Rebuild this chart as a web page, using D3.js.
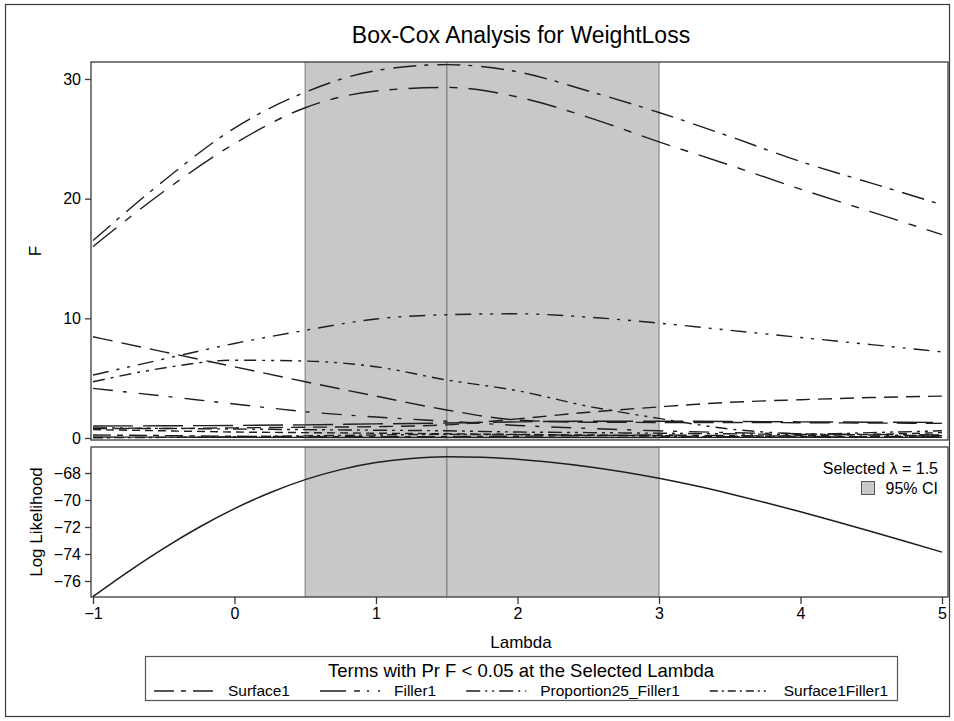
<!DOCTYPE html>
<html>
<head>
<meta charset="utf-8">
<script src="https://cdn.jsdelivr.net/npm/d3@7"></script>
<style>
  body { margin: 0; background: #fff; }
  svg { display: block; }
  text { font-family: "Liberation Sans", Arial, sans-serif; fill: #000; }
</style>
</head>
<body>
<svg id="chart" width="954" height="721"></svg>
<script>
// Box-Cox lambda grid and F statistics of each model term
const lambdaGrid = [-1, -0.5, 0, 0.5, 1, 1.5, 2, 2.5, 3, 3.5, 4, 4.5, 5];
const fSurface1 = [16.0, 20.6, 24.6, 27.6, 29.0, 29.3, 28.5, 26.8, 24.75, 22.8, 20.8, 18.9, 17.0];
const fFiller1 = [16.5, 21.5, 25.9, 28.9, 30.7, 31.2, 30.6, 29.0, 27.2, 25.2, 23.1, 21.3, 19.5];
const fProportion25Filler1 = [5.26, 6.6, 7.9, 9.0, 9.95, 10.3, 10.38, 10.1, 9.6, 9.0, 8.4, 7.8, 7.2];
const fSurface1Filler1 = [4.7, 5.85, 6.5, 6.43, 5.95, 4.85, 3.95, 2.65, 1.64, 0.75, 0.35, 0.25, 0.2];
// terms that are not significant at the selected lambda
const fProportion25 = [8.46, 7.2, 5.95, 4.7, 3.5, 2.34, 1.5, 1.32, 1.3, 1.3, 1.28, 1.25, 1.22];
const fProportion50 = [0.8, 0.8, 0.85, 0.9, 0.95, 1.1, 1.6, 2.15, 2.6, 2.98, 3.2, 3.38, 3.5];
const fSurface1Proportion25 = [4.15, 3.5, 2.84, 2.2, 1.75, 1.4, 1.05, 0.8, 0.6, 0.45, 0.35, 0.3, 0.25];
const fProportion50Filler1 = [1.0, 1.02, 1.05, 1.1, 1.18, 1.25, 1.35, 1.4, 1.4, 1.38, 1.35, 1.32, 1.3];
const fSurface1Proportion50 = [0.85, 0.8, 0.75, 0.7, 0.65, 0.6, 0.5, 0.45, 0.4, 0.35, 0.3, 0.45, 0.6];
const fSurface1Proportion25Filler1 = [0.7, 0.6, 0.5, 0.45, 0.4, 0.35, 0.3, 0.25, 0.2, 0.15, 0.2, 0.3, 0.45];
const fSurface1Proportion50Filler1 = [0.25, 0.2, 0.15, 0.12, 0.1, 0.12, 0.15, 0.2, 0.25, 0.2, 0.15, 0.1, 0.1];
const fProportion25Proportion50 = [0.08, 0.07, 0.06, 0.05, 0.05, 0.05, 0.05, 0.05, 0.05, 0.05, 0.05, 0.05, 0.05];
const fFiller1Squared = [0.02, 0.05, 0.1, 0.18, 0.25, 0.3, 0.28, 0.22, 0.15, 0.1, 0.08, 0.12, 0.2];

// Log likelihood profile
const llLambda = [-1, -0.75, -0.5, -0.25, 0, 0.25, 0.5, 0.75, 1, 1.25, 1.5, 1.75, 2, 2.25, 2.5, 2.75, 3, 3.25, 3.5, 3.75, 4, 4.25, 4.5, 4.75, 5];
const logLik = [-77.15, -75.3, -73.58, -72.02, -70.64, -69.46, -68.49, -67.75, -67.23, -66.92, -66.8, -66.83, -66.98, -67.22, -67.53, -67.92, -68.39, -68.93, -69.53, -70.18, -70.87, -71.59, -72.33, -73.09, -73.86];

const selectedLambda = 1.5;
const ciLambda = [0.5, 3];

const lambdaTicks = [-1, 0, 1, 2, 3, 4, 5];
const fTicks = [0, 10, 20, 30];
const llTicks = [-76, -74, -72, -70, -68];

const legendTerms = ["Surface1", "Filler1", "Proportion25_Filler1", "Surface1Filler1"];

// series, their curve patterns and the shorter patterns used in the legend swatches
const series = [
  { name: "Surface1", values: fSurface1, dash: "30,11,8,11", legendDash: "20,7,5,7" },
  { name: "Filler1", values: fFiller1, dash: "23,8,4,9", legendDash: "26,8,6,7,2,9" },
  { name: "Proportion25_Filler1", values: fProportion25Filler1, dash: "16,8,3,8,3,8", legendDash: "14,5,2,5,2,5" },
  { name: "Surface1Filler1", values: fSurface1Filler1, dash: "12,6,3,6,12,6,3,6,3,6", legendDash: "8,4,2,4,8,4,2,4,8,4,2,4,2,4" },
  { name: "Proportion25", values: fProportion25, dash: "20,9" },
  { name: "Proportion50", values: fProportion50, dash: "14,8" },
  { name: "Surface1Proportion25", values: fSurface1Proportion25, dash: "20,10,4,12" },
  { name: "Proportion50Filler1", values: fProportion50Filler1, dash: "40,10" },
  { name: "Surface1Proportion50", values: fSurface1Proportion50, dash: "14,5,3,5,3,5" },
  { name: "Surface1Proportion25Filler1", values: fSurface1Proportion25Filler1, dash: "8,5" },
  { name: "Surface1Proportion50Filler1", values: fSurface1Proportion50Filler1, dash: "18,6,6,6" },
  { name: "Proportion25Proportion50", values: fProportion25Proportion50, dash: null },
  { name: "Filler1Squared", values: fFiller1Squared, dash: "10,4,3,4" }
];

const svg = d3.select("#chart");
const ink = "#1e1e1e";
const frame = "#3a3a3a";
const bandFill = "#c8c8c8";
const bandEdge = "#9a9a9a";

// outer border
svg.append("rect").attr("x", 5.5).attr("y", 4.5).attr("width", 944).attr("height", 712)
  .attr("fill", "none").attr("stroke", frame).attr("stroke-width", 1.2);

// title
svg.append("text").attr("x", 521).attr("y", 43).attr("text-anchor", "middle")
  .style("font-size", "23px").text("Box-Cox Analysis for WeightLoss");

const plotLeft = 91, plotRight = 948;
const topPanel = { top: 62, bottom: 440 };
const botPanel = { top: 447, bottom: 597 };

const x = d3.scaleLinear().domain([-1, 5]).range([93, 942]);
const yF = d3.scaleLinear().domain([0, 30]).range([438, 79]);
const yLL = d3.scaleLinear().domain([-76, -68]).range([581, 473]);

function drawBand(panel) {
  const g = svg.append("g");
  g.append("rect").attr("x", x(ciLambda[0])).attr("y", panel.top)
    .attr("width", x(ciLambda[1]) - x(ciLambda[0])).attr("height", panel.bottom - panel.top)
    .attr("fill", bandFill);
  ciLambda.forEach(v => {
    g.append("line").attr("x1", x(v)).attr("x2", x(v)).attr("y1", panel.top).attr("y2", panel.bottom)
      .attr("stroke", bandEdge).attr("stroke-width", 1.5);
  });
  g.append("line").attr("x1", x(selectedLambda)).attr("x2", x(selectedLambda))
    .attr("y1", panel.top).attr("y2", panel.bottom)
    .attr("stroke", "#8a8a8a").attr("stroke-width", 1.5);
}

// ---- top panel: F statistics ----
drawBand(topPanel);

svg.append("clipPath").attr("id", "clipTop").append("rect")
  .attr("x", plotLeft).attr("y", topPanel.top)
  .attr("width", plotRight - plotLeft).attr("height", topPanel.bottom - topPanel.top);

const fLine = d3.line()
  .x((d, i) => x(lambdaGrid[i]))
  .y(d => yF(d))
  .curve(d3.curveMonotoneX);

svg.append("g").attr("clip-path", "url(#clipTop)")
  .selectAll("path").data(series).join("path")
  .attr("d", d => fLine(d.values))
  .attr("fill", "none").attr("stroke", ink).attr("stroke-width", 1.4)
  .attr("stroke-dasharray", d => d.dash);

svg.append("rect").attr("x", plotLeft).attr("y", topPanel.top)
  .attr("width", plotRight - plotLeft).attr("height", topPanel.bottom - topPanel.top)
  .attr("fill", "none").attr("stroke", frame).attr("stroke-width", 1.3);

const axisF = svg.append("g").attr("transform", `translate(${plotLeft},0)`)
  .call(d3.axisLeft(yF).tickValues(fTicks).tickSize(6).tickPadding(4));

// ---- bottom panel: log likelihood ----
drawBand(botPanel);

const llLine = d3.line()
  .x((d, i) => x(llLambda[i]))
  .y(d => yLL(d))
  .curve(d3.curveMonotoneX);

svg.append("path").attr("d", llLine(logLik))
  .attr("fill", "none").attr("stroke", ink).attr("stroke-width", 1.5);

svg.append("rect").attr("x", plotLeft).attr("y", botPanel.top)
  .attr("width", plotRight - plotLeft).attr("height", botPanel.bottom - botPanel.top)
  .attr("fill", "none").attr("stroke", frame).attr("stroke-width", 1.3);

const axisLL = svg.append("g").attr("transform", `translate(${plotLeft},0)`)
  .call(d3.axisLeft(yLL).tickValues(llTicks).tickSize(6).tickPadding(4));

const axisX = svg.append("g").attr("transform", `translate(0,${botPanel.bottom})`)
  .call(d3.axisBottom(x).tickValues(lambdaTicks).tickFormat(d3.format("d")).tickSize(7).tickPadding(4));

[axisF, axisLL, axisX].forEach(a => {
  a.select(".domain").remove();
  a.selectAll(".tick line").attr("stroke", frame).attr("stroke-width", 1.3);
  a.selectAll(".tick text").style("font-size", "16px").attr("fill", "#000")
    .style("font-family", "'Liberation Sans', Arial, sans-serif");
});

// axis titles
svg.append("text").attr("transform", `translate(41,${(topPanel.top + topPanel.bottom) / 2}) rotate(-90)`)
  .attr("text-anchor", "middle").style("font-size", "17px").text("F");
svg.append("text").attr("transform", `translate(42,${(botPanel.top + botPanel.bottom) / 2}) rotate(-90)`)
  .attr("text-anchor", "middle").style("font-size", "17px").text("Log Likelihood");
svg.append("text").attr("x", 521).attr("y", 648).attr("text-anchor", "middle")
  .style("font-size", "17px").text("Lambda");

// inset legend in the log-likelihood panel
svg.append("text").attr("x", 938).attr("y", 474).attr("text-anchor", "end")
  .style("font-size", "16px").text(`Selected \u03bb = ${selectedLambda}`);
svg.append("rect").attr("x", 861.5).attr("y", 481.5).attr("width", 13).attr("height", 13)
  .attr("fill", bandFill).attr("stroke", "#555").attr("stroke-width", 1);
svg.append("text").attr("x", 938).attr("y", 494).attr("text-anchor", "end")
  .style("font-size", "16px").text("95% CI");

// bottom legend of significant terms
const lg = svg.append("g");
lg.append("rect").attr("x", 145.5).attr("y", 656.5).attr("width", 752).attr("height", 44)
  .attr("fill", "#fff").attr("stroke", "#555").attr("stroke-width", 1.2);
lg.append("text").attr("x", 521).attr("y", 677).attr("text-anchor", "middle")
  .style("font-size", "18.5px").text("Terms with Pr F < 0.05 at the Selected Lambda");

const glyphLen = 60, glyphGap = 14, entryGap = 30;
const entries = legendTerms.map(n => series.find(s => s.name === n));
const labels = entries.map(e => lg.append("text").attr("y", 696).style("font-size", "15.5px").text(e.name));
const widths = labels.map(t => t.node().getComputedTextLength());
const total = d3.sum(widths) + entries.length * (glyphLen + glyphGap) + (entries.length - 1) * entryGap;
let cx = 521 - total / 2;
entries.forEach((e, i) => {
  lg.append("line").attr("x1", cx).attr("x2", cx + glyphLen).attr("y1", 691).attr("y2", 691)
    .attr("stroke", ink).attr("stroke-width", 1.4).attr("stroke-dasharray", e.legendDash);
  cx += glyphLen + glyphGap;
  labels[i].attr("x", cx);
  cx += widths[i] + entryGap;
});
</script>
</body>
</html>
